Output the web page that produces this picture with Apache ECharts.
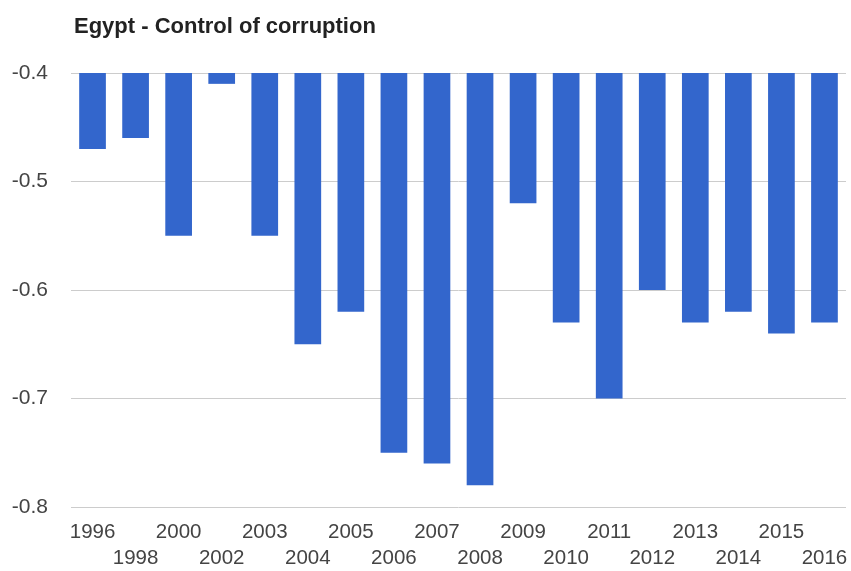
<!DOCTYPE html>
<html>
<head>
<meta charset="utf-8">
<script src="https://cdn.jsdelivr.net/npm/echarts@6/dist/echarts.min.js"></script>
<style>html,body{margin:0;padding:0;background:#fff}#c{width:851px;height:571px}</style>
</head>
<body>
<div id="c"></div>
<script>
const years = ['1996','1998','2000','2002','2003','2004','2005','2006','2007','2008','2009','2010','2011','2012','2013','2014','2015','2016'];
const controlOfCorruption = [-0.47,-0.46,-0.55,-0.41,-0.55,-0.65,-0.62,-0.75,-0.76,-0.78,-0.52,-0.63,-0.70,-0.60,-0.63,-0.62,-0.64,-0.63];
const yTicks = { min: -0.8, max: -0.4, interval: 0.1 };

const chart = echarts.init(document.getElementById('c'), null, { renderer: 'canvas' });
chart.setOption({
  animation: false,
  title: {
    text: 'Egypt - Control of corruption',
    left: 69, top: 11,
    textStyle: { fontFamily: 'Liberation Sans, Arial', fontSize: 22, fontWeight: 'bold', color: '#222' }
  },
  grid: { left: 71, right: 5, top: 73, bottom: 64, containLabel: false },
  xAxis: {
    type: 'category',
    data: years,
    axisLine: { show: false },
    axisTick: { show: false },
    axisLabel: {
      interval: 0,
      margin: 12,
      color: '#444',
      fontFamily: 'Liberation Sans, Arial',
      fontSize: 20.5,
      lineHeight: 26,
      verticalAlign: 'top',
      formatter: (v, i) => (i % 2 === 1 ? '\n' + v : v)
    }
  },
  yAxis: {
    type: 'value',
    min: yTicks.min, max: yTicks.max, interval: yTicks.interval,
    axisLine: { show: false },
    axisTick: { show: false },
    splitLine: { lineStyle: { color: '#cccccc', width: 1 } },
    axisLabel: {
      margin: 23,
      color: '#444',
      fontFamily: 'Liberation Sans, Arial',
      fontSize: 21,
      padding: [4, 0, 0, 0],
      formatter: v => (Math.round(v * 10) / 10).toString()
    }
  },
  series: [{
    type: 'bar',
    data: controlOfCorruption,
    clip: true,
    barCategoryGap: '38%',
    itemStyle: { color: '#3366cc' }
  }]
});
</script>
</body>
</html>
